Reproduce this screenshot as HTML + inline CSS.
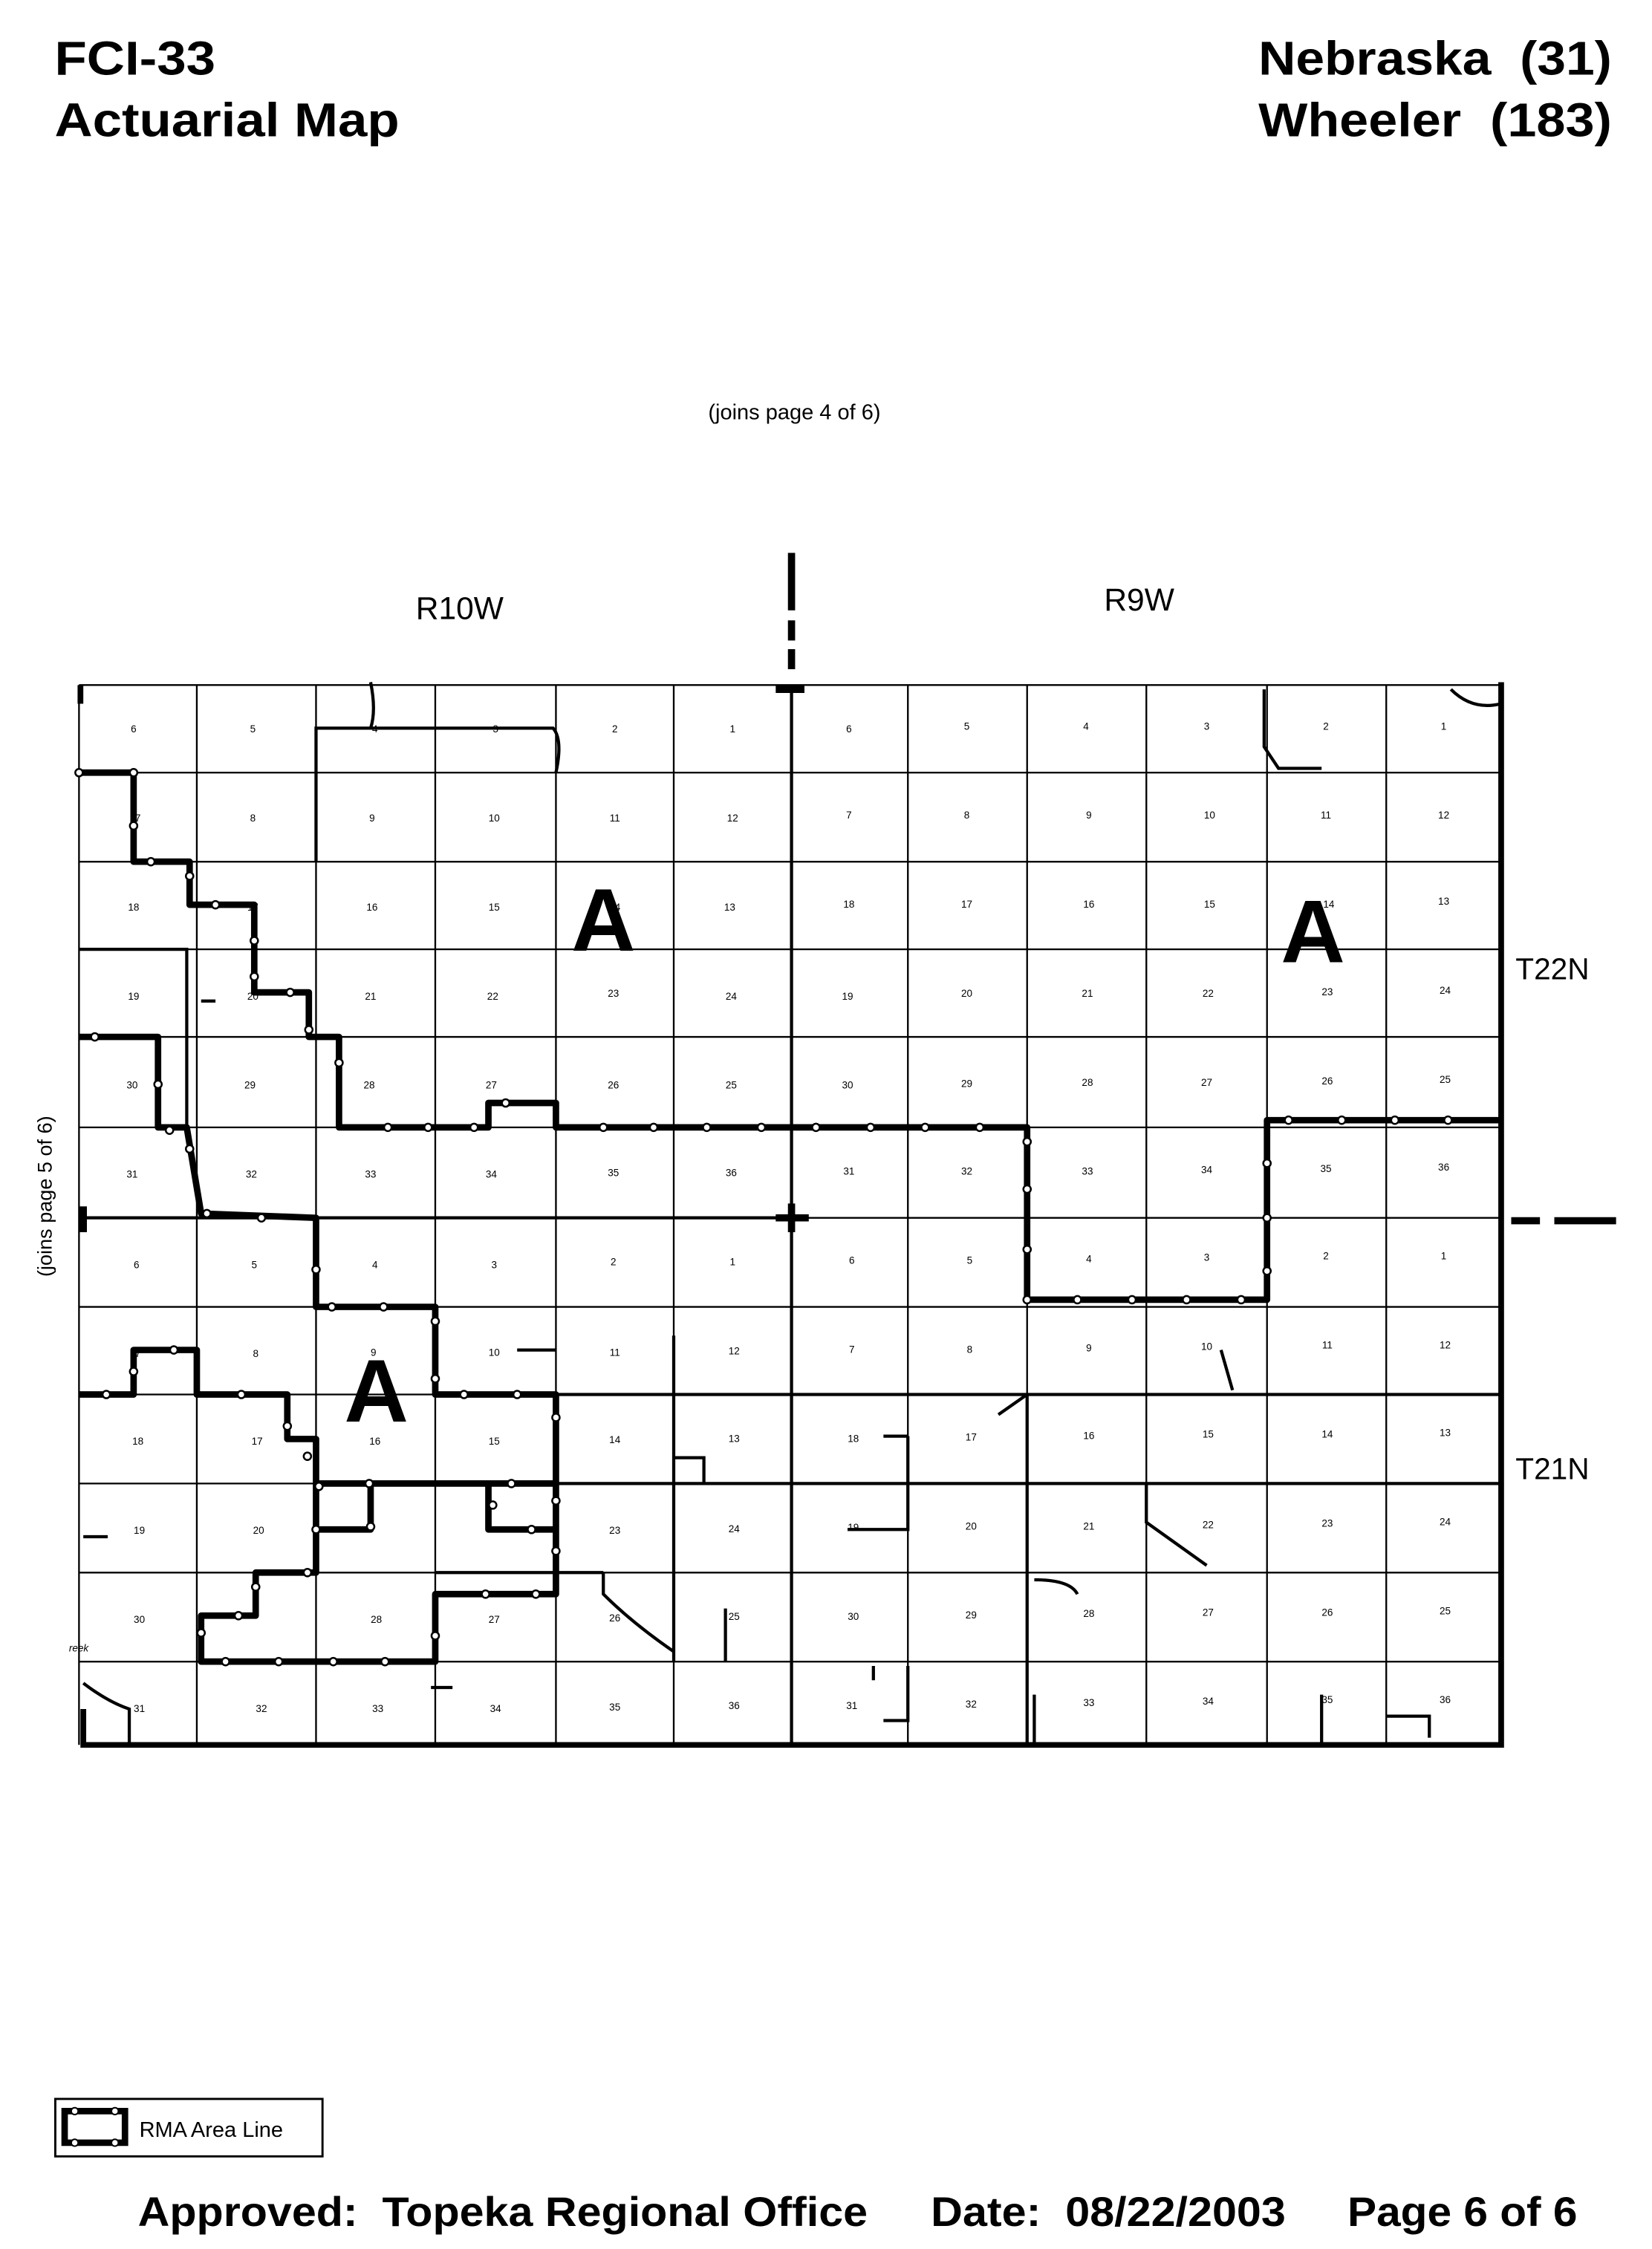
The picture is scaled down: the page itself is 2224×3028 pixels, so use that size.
<!DOCTYPE html>
<html><head><meta charset="utf-8"><style>
html,body{margin:0;padding:0;background:#fff}
svg{display:block}
text{font-family:"Liberation Sans",sans-serif;fill:#000}
.n{font-size:7px;text-anchor:middle}
</style></head><body>
<svg width="2224" height="3028" viewBox="0 0 1150 1566" preserveAspectRatio="none" xmlns="http://www.w3.org/2000/svg">
<rect width="1150" height="1566" fill="#fff"/>
<text x="38" y="52" font-size="33" font-weight="bold" textLength="112" lengthAdjust="spacingAndGlyphs">FCI-33</text>
<text x="38" y="95" font-size="33" font-weight="bold" textLength="240" lengthAdjust="spacingAndGlyphs">Actuarial Map</text>
<text x="876" y="52" font-size="33" font-weight="bold" textLength="246" lengthAdjust="spacingAndGlyphs">Nebraska&#160;&#160;(31)</text>
<text x="876" y="95" font-size="33" font-weight="bold" textLength="246" lengthAdjust="spacingAndGlyphs">Wheeler&#160;&#160;(183)</text>
<text x="553" y="292" font-size="15" text-anchor="middle">(joins page 4 of 6)</text>
<text x="320" y="431" font-size="22" text-anchor="middle">R10W</text>
<text x="793" y="425" font-size="22" text-anchor="middle">R9W</text>
<text x="1055" y="682" font-size="21">T22N</text>
<text x="1055" y="1030" font-size="21">T21N</text>
<text transform="translate(36,833) rotate(-90)" font-size="14" text-anchor="middle">(joins page 5 of 6)</text>

<g stroke="#000" fill="none">
<g stroke-width="1.2">
<path d="M55,477H1045M55,538H1045M55,600H1045M55,661H1045M55,722H1045M55,785H1045M55,848H1045M55,910H1045M55,971H1045M55,1033H1045M55,1095H1045M55,1157H1045"/>
<path d="M55,477V1215M137,477V1215M220,477V1215M303,477V1215M387,477V1215M469,477V1215M632,477V1215M715,477V1215M798,477V1215M882,477V1215M965,477V1215"/>
</g>
<path stroke-width="2.2" d="M551,480V1215M55,848H551M387,971H1045M387,1033H1045M55,661H130V785M469,930V1157M632,1000V1065H590M715,971V1215M220,600V507H385Q392,515 387,538M303,1095H420M715,971L695,985M798,1033V1060L840,1090M850,940L858,968M880,480V520L890,535H920M1010,480Q1025,495 1045,490M140,697H150M360,940H387M469,1015H490V1033M720,1100Q745,1100 750,1110M615,1000H632M608,1160V1170M632,1160V1198H615M720,1180V1215M920,1180V1215M965,1195H995V1210M505,1120V1157M420,1095V1110Q440,1130 469,1150V1157M300,1175H315M58,1070H75M58,1172Q75,1185 90,1190V1215M258,475Q262,495 258,507"/>
<path stroke-width="4" d="M1045,475V1217M56,1215H1046M56,477V490M58,1190V1217"/>
<g stroke-width="4.5" stroke-linejoin="round">
<path d="M55,538H93V600H132V630H177V691H215V722H236V785H340V768H387V785H715V905H882V780H1045"/>
<path d="M55,722H110V785H130L140,845L220,848V910H303V971H387V1110H303V1157H140V1125H178V1095H220V1002H200V971H137V940H93V971H55"/>
<path d="M220,1033H387M258,1033V1065H220M340,1033V1065H387"/>
</g>
<g stroke-width="5">
<path d="M551,385V425M551,432V446M551,452V466M540,848H563M551,838V858M540,480H560"/>
<path d="M1052,850H1072M1082,850H1125M58,840V858"/>
</g>
</g>
<g fill="#fff" stroke="#000" stroke-width="1.3">
<circle cx="55" cy="538" r="2.6"/><circle cx="93" cy="538" r="2.6"/><circle cx="93" cy="575" r="2.6"/><circle cx="105" cy="600" r="2.6"/><circle cx="132" cy="610" r="2.6"/><circle cx="150" cy="630" r="2.6"/><circle cx="177" cy="655" r="2.6"/><circle cx="177" cy="680" r="2.6"/><circle cx="202" cy="691" r="2.6"/><circle cx="215" cy="717" r="2.6"/><circle cx="236" cy="740" r="2.6"/><circle cx="270" cy="785" r="2.6"/><circle cx="298" cy="785" r="2.6"/><circle cx="330" cy="785" r="2.6"/><circle cx="352" cy="768" r="2.6"/><circle cx="420" cy="785" r="2.6"/><circle cx="455" cy="785" r="2.6"/><circle cx="492" cy="785" r="2.6"/><circle cx="530" cy="785" r="2.6"/><circle cx="568" cy="785" r="2.6"/><circle cx="606" cy="785" r="2.6"/><circle cx="644" cy="785" r="2.6"/><circle cx="682" cy="785" r="2.6"/><circle cx="715" cy="795" r="2.6"/><circle cx="715" cy="828" r="2.6"/><circle cx="715" cy="870" r="2.6"/><circle cx="715" cy="905" r="2.6"/><circle cx="750" cy="905" r="2.6"/><circle cx="788" cy="905" r="2.6"/><circle cx="826" cy="905" r="2.6"/><circle cx="864" cy="905" r="2.6"/><circle cx="882" cy="885" r="2.6"/><circle cx="882" cy="848" r="2.6"/><circle cx="882" cy="810" r="2.6"/><circle cx="897" cy="780" r="2.6"/><circle cx="934" cy="780" r="2.6"/><circle cx="971" cy="780" r="2.6"/><circle cx="1008" cy="780" r="2.6"/>
<circle cx="66" cy="722" r="2.6"/><circle cx="118" cy="787" r="2.6"/><circle cx="110" cy="755" r="2.6"/><circle cx="132" cy="800" r="2.6"/><circle cx="144" cy="845" r="2.6"/><circle cx="182" cy="848" r="2.6"/><circle cx="220" cy="884" r="2.6"/><circle cx="231" cy="910" r="2.6"/><circle cx="267" cy="910" r="2.6"/><circle cx="303" cy="920" r="2.6"/><circle cx="303" cy="960" r="2.6"/><circle cx="323" cy="971" r="2.6"/><circle cx="360" cy="971" r="2.6"/><circle cx="387" cy="987" r="2.6"/><circle cx="387" cy="1045" r="2.6"/><circle cx="387" cy="1080" r="2.6"/><circle cx="373" cy="1110" r="2.6"/><circle cx="338" cy="1110" r="2.6"/><circle cx="303" cy="1139" r="2.6"/><circle cx="268" cy="1157" r="2.6"/><circle cx="232" cy="1157" r="2.6"/><circle cx="194" cy="1157" r="2.6"/><circle cx="157" cy="1157" r="2.6"/><circle cx="140" cy="1137" r="2.6"/><circle cx="166" cy="1125" r="2.6"/><circle cx="178" cy="1105" r="2.6"/><circle cx="214" cy="1095" r="2.6"/><circle cx="220" cy="1065" r="2.6"/><circle cx="257" cy="1033" r="2.6"/><circle cx="222" cy="1035" r="2.6"/><circle cx="258" cy="1063" r="2.6"/><circle cx="343" cy="1048" r="2.6"/><circle cx="356" cy="1033" r="2.6"/><circle cx="370" cy="1065" r="2.6"/><circle cx="214" cy="1014" r="2.6"/><circle cx="200" cy="993" r="2.6"/><circle cx="168" cy="971" r="2.6"/><circle cx="121" cy="940" r="2.6"/><circle cx="93" cy="955" r="2.6"/><circle cx="74" cy="971" r="2.6"/>
</g>

<text x="420" y="662" font-size="62" font-weight="bold" text-anchor="middle">A</text>
<text x="914" y="670" font-size="62" font-weight="bold" text-anchor="middle">A</text>
<text x="262" y="990" font-size="62" font-weight="bold" text-anchor="middle">A</text>

<g class="n">
<text x="93" y="510" class="n">6</text><text x="176" y="510" class="n">5</text><text x="261" y="510" class="n">4</text><text x="345" y="510" class="n">3</text><text x="428" y="510" class="n">2</text><text x="510" y="510" class="n">1</text><text x="591" y="510" class="n">6</text><text x="673" y="508" class="n">5</text><text x="756" y="508" class="n">4</text><text x="840" y="508" class="n">3</text><text x="923" y="508" class="n">2</text><text x="1005" y="508" class="n">1</text>
<text x="96" y="572" class="n">7</text><text x="176" y="572" class="n">8</text><text x="259" y="572" class="n">9</text><text x="344" y="572" class="n">10</text><text x="428" y="572" class="n">11</text><text x="510" y="572" class="n">12</text><text x="591" y="570" class="n">7</text><text x="673" y="570" class="n">8</text><text x="758" y="570" class="n">9</text><text x="842" y="570" class="n">10</text><text x="923" y="570" class="n">11</text><text x="1005" y="570" class="n">12</text>
<text x="93" y="634" class="n">18</text><text x="176" y="634" class="n">17</text><text x="259" y="634" class="n">16</text><text x="344" y="634" class="n">15</text><text x="428" y="634" class="n">14</text><text x="508" y="634" class="n">13</text><text x="591" y="632" class="n">18</text><text x="673" y="632" class="n">17</text><text x="758" y="632" class="n">16</text><text x="842" y="632" class="n">15</text><text x="925" y="632" class="n">14</text><text x="1005" y="630" class="n">13</text>
<text x="93" y="696" class="n">19</text><text x="176" y="696" class="n">20</text><text x="258" y="696" class="n">21</text><text x="343" y="696" class="n">22</text><text x="427" y="694" class="n">23</text><text x="509" y="696" class="n">24</text><text x="590" y="696" class="n">19</text><text x="673" y="694" class="n">20</text><text x="757" y="694" class="n">21</text><text x="841" y="694" class="n">22</text><text x="924" y="693" class="n">23</text><text x="1006" y="692" class="n">24</text>
<text x="92" y="758" class="n">30</text><text x="174" y="758" class="n">29</text><text x="257" y="758" class="n">28</text><text x="342" y="758" class="n">27</text><text x="427" y="758" class="n">26</text><text x="509" y="758" class="n">25</text><text x="590" y="758" class="n">30</text><text x="673" y="757" class="n">29</text><text x="757" y="756" class="n">28</text><text x="840" y="756" class="n">27</text><text x="924" y="755" class="n">26</text><text x="1006" y="754" class="n">25</text>
<text x="92" y="820" class="n">31</text><text x="175" y="820" class="n">32</text><text x="258" y="820" class="n">33</text><text x="342" y="820" class="n">34</text><text x="427" y="819" class="n">35</text><text x="509" y="819" class="n">36</text><text x="591" y="818" class="n">31</text><text x="673" y="818" class="n">32</text><text x="757" y="818" class="n">33</text><text x="840" y="817" class="n">34</text><text x="923" y="816" class="n">35</text><text x="1005" y="815" class="n">36</text>
<text x="95" y="883" class="n">6</text><text x="177" y="883" class="n">5</text><text x="261" y="883" class="n">4</text><text x="344" y="883" class="n">3</text><text x="427" y="881" class="n">2</text><text x="510" y="881" class="n">1</text><text x="593" y="880" class="n">6</text><text x="675" y="880" class="n">5</text><text x="758" y="879" class="n">4</text><text x="840" y="878" class="n">3</text><text x="923" y="877" class="n">2</text><text x="1005" y="877" class="n">1</text>
<text x="96" y="945" class="n">7</text><text x="178" y="945" class="n">8</text><text x="260" y="944" class="n">9</text><text x="344" y="944" class="n">10</text><text x="428" y="944" class="n">11</text><text x="511" y="943" class="n">12</text><text x="593" y="942" class="n">7</text><text x="675" y="942" class="n">8</text><text x="758" y="941" class="n">9</text><text x="840" y="940" class="n">10</text><text x="924" y="939" class="n">11</text><text x="1006" y="939" class="n">12</text>
<text x="96" y="1006" class="n">18</text><text x="179" y="1006" class="n">17</text><text x="261" y="1006" class="n">16</text><text x="344" y="1006" class="n">15</text><text x="428" y="1005" class="n">14</text><text x="511" y="1004" class="n">13</text><text x="594" y="1004" class="n">18</text><text x="676" y="1003" class="n">17</text><text x="758" y="1002" class="n">16</text><text x="841" y="1001" class="n">15</text><text x="924" y="1001" class="n">14</text><text x="1006" y="1000" class="n">13</text>
<text x="97" y="1068" class="n">19</text><text x="180" y="1068" class="n">20</text><text x="428" y="1068" class="n">23</text><text x="511" y="1067" class="n">24</text><text x="594" y="1066" class="n">19</text><text x="676" y="1065" class="n">20</text><text x="758" y="1065" class="n">21</text><text x="841" y="1064" class="n">22</text><text x="924" y="1063" class="n">23</text><text x="1006" y="1062" class="n">24</text>
<text x="97" y="1130" class="n">30</text><text x="262" y="1130" class="n">28</text><text x="344" y="1130" class="n">27</text><text x="428" y="1129" class="n">26</text><text x="511" y="1128" class="n">25</text><text x="594" y="1128" class="n">30</text><text x="676" y="1127" class="n">29</text><text x="758" y="1126" class="n">28</text><text x="841" y="1125" class="n">27</text><text x="924" y="1125" class="n">26</text><text x="1006" y="1124" class="n">25</text>
<text x="97" y="1192" class="n">31</text><text x="182" y="1192" class="n">32</text><text x="263" y="1192" class="n">33</text><text x="345" y="1192" class="n">34</text><text x="428" y="1191" class="n">35</text><text x="511" y="1190" class="n">36</text><text x="593" y="1190" class="n">31</text><text x="676" y="1189" class="n">32</text><text x="758" y="1188" class="n">33</text><text x="841" y="1187" class="n">34</text><text x="924" y="1186" class="n">35</text><text x="1006" y="1186" class="n">36</text>
</g>
<text x="48" y="1150" font-size="7" font-style="italic">reek</text>

<rect x="38.5" y="1461.5" width="186" height="40" fill="#fff" stroke="#000" stroke-width="1.5"/>
<rect x="45" y="1470" width="42" height="22" fill="none" stroke="#000" stroke-width="4.5"/>
<circle cx="52" cy="1470" r="2.4" fill="#fff" stroke="#000"/><circle cx="80" cy="1470" r="2.4" fill="#fff" stroke="#000"/><circle cx="52" cy="1492" r="2.4" fill="#fff" stroke="#000"/><circle cx="80" cy="1492" r="2.4" fill="#fff" stroke="#000"/>
<text x="97" y="1488" font-size="15">RMA Area Line</text>

<text x="96" y="1550" font-size="29" font-weight="bold" textLength="508" lengthAdjust="spacingAndGlyphs">Approved:&#160;&#160;Topeka Regional Office</text>
<text x="648" y="1550" font-size="29" font-weight="bold" textLength="247" lengthAdjust="spacingAndGlyphs">Date:&#160;&#160;08/22/2003</text>
<text x="938" y="1550" font-size="29" font-weight="bold" textLength="160" lengthAdjust="spacingAndGlyphs">Page 6 of 6</text>
</svg>
</body></html>
